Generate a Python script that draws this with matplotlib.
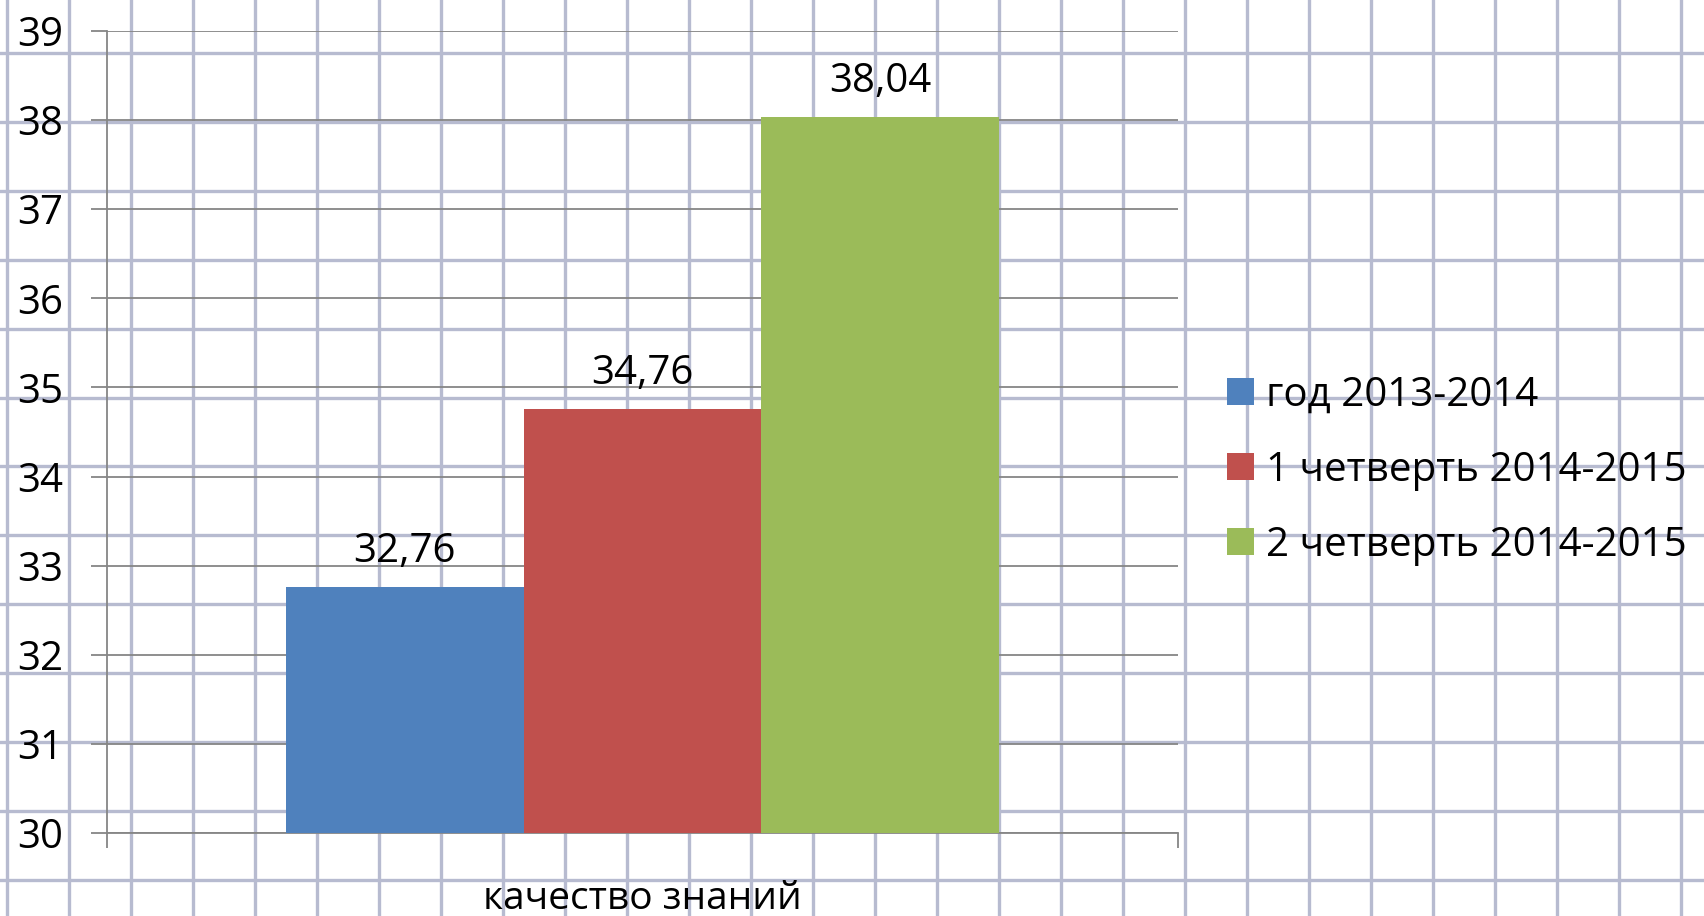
import numpy as np
import matplotlib.pyplot as plt

plt.rcParams['font.family'] = ['Open Sans', 'DejaVu Sans']

# данные
category = "качество знаний"
series = ["год 2013-2014", "1 четверть 2014-2015", "2 четверть 2014-2015"]
values = [32.76, 34.76, 38.04]
colors = ["#4F81BD", "#C0504D", "#9BBB59"]
yticks = [30, 31, 32, 33, 34, 35, 36, 37, 38, 39]

W, H = 1704, 916
fig = plt.figure(figsize=(W / 100, H / 100), dpi=100)
fig.patch.set_facecolor("white")

# фон "тетрадь в клетку"
bg = fig.add_axes([0, 0, 1, 1], zorder=0)
bg.set_xlim(0, W)
bg.set_ylim(H, 0)
bg.axis("off")
paper = "#b7bbd0"
for x in np.arange(7, W, 62.0):
    bg.axvline(x, color=paper, lw=2.4)
for y in np.arange(53 - 68.9, H, 68.9):
    bg.axhline(y, color=paper, lw=2.4)

# основная диаграмма
ax = fig.add_axes([107 / W, 1 - 833 / H, (1178 - 107) / W, (833 - 31) / H], zorder=1)
ax.patch.set_alpha(0)

grey = "#868686"
bw = 0.222
offsets = (np.arange(len(values)) - 1) * bw
for off, v, c, name in zip(offsets, values, colors, series):
    ax.bar(off, v - 30, bottom=30, width=bw, color=c, label=name, zorder=3)
    ax.annotate(f"{v:.2f}".replace(".", ","), (off, v), xytext=(0, 18),
                textcoords="offset points", ha="center", va="baseline",
                fontsize=29, color="black", zorder=4)

ax.set_xlim(-0.5, 0.5)
ax.set_ylim(30, 39)
ax.set_yticks(yticks)
ax.set_yticklabels([str(t) for t in yticks], fontsize=29)
ax.yaxis.grid(True, color=grey, lw=1.3, zorder=1)
ax.tick_params(axis="y", length=11.5, width=1.3, color=grey, direction="out", pad=20)
ax.set_xticks([-0.5, 0.5])
ax.set_xticklabels(["", ""])
ax.tick_params(axis="x", length=11, width=1.3, color=grey, direction="out")
ax.text(0, -0.082, category, transform=ax.get_xaxis_transform(), ha="center",
        va="center", fontsize=28)

for side in ["top", "right"]:
    ax.spines[side].set_visible(False)
for side in ["left", "bottom"]:
    ax.spines[side].set_color(grey)
    ax.spines[side].set_linewidth(1.3)

fig.legend(loc="upper left", bbox_to_anchor=(1211 / W, 1 - 359 / H), frameon=False,
           fontsize=29, handlelength=0.67, handleheight=0.67, handletextpad=0.3,
           labelspacing=0.86, borderaxespad=0)

fig.savefig("out.png", dpi=100)
